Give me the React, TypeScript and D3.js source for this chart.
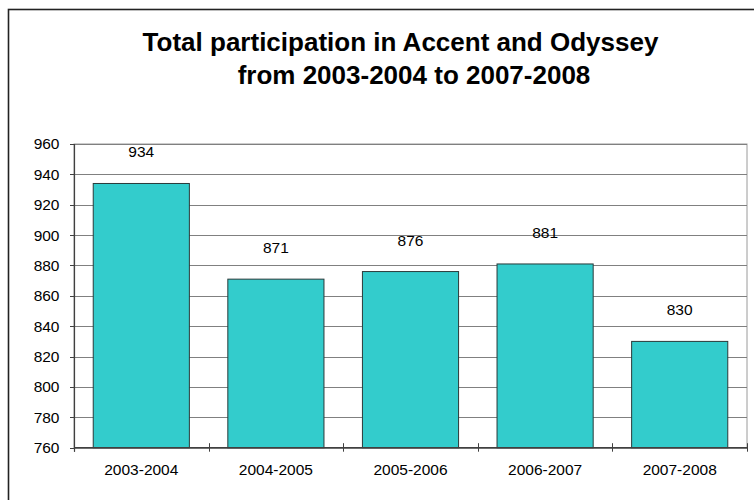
import React from "react";
import * as d3 from "d3";

// Total participation per school year
const years = ["2003-2004", "2004-2005", "2005-2006", "2006-2007", "2007-2008"];
const participation = [934, 871, 876, 881, 830];
const yTicks = [760, 780, 800, 820, 840, 860, 880, 900, 920, 940, 960];
const titleLines = ["Total participation in Accent and Odyssey", "from 2003-2004 to 2007-2008"];

const W = 754;
const H = 500;
const plot = { left: 74, right: 747, top: 144, bottom: 447.7 };
const font = "'Liberation Sans', Arial, Helvetica, sans-serif";

export default function App() {
  const x = d3
    .scaleBand<string>()
    .domain(years)
    .range([plot.left, plot.right])
    .paddingInner(0.4 / 1.4)
    .paddingOuter(0.2 / 1.4);
  const band = (plot.right - plot.left) / years.length;
  const y = d3.scaleLinear().domain([760, 960]).range([plot.bottom, plot.top]);

  return (
    <svg
      width={W}
      height={H}
      style={{ position: "absolute", left: 0, top: 0, background: "#fff" }}
      fontFamily={font}
    >
      {/* chart frame */}
      <rect x={8.5} y={9.5} width={800} height={600} fill="#fff" stroke="#222" strokeWidth={1.6} />

      {/* title */}
      <g fontSize={26} fontWeight="bold" fill="#000" textAnchor="middle">
        <text x={400.5} y={51}>{titleLines[0]}</text>
        <text x={414} y={84}>{titleLines[1]}</text>
      </g>

      {/* plot area border */}
      <rect
        x={plot.left}
        y={plot.top}
        width={plot.right - plot.left}
        height={plot.bottom - plot.top}
        fill="none"
        stroke="#9a9a9a"
        strokeWidth={1}
      />

      {/* gridlines */}
      {yTicks.map((t) => (
        <line
          key={"g" + t}
          x1={plot.left}
          x2={plot.right}
          y1={Math.round(y(t)) + 0.5}
          y2={Math.round(y(t)) + 0.5}
          stroke="#808080"
          strokeWidth={1}
        />
      ))}

      {/* bars */}
      {years.map((yr, i) => {
        const v = participation[i];
        const top = y(v);
        return (
          <rect
            key={yr}
            x={x(yr)!}
            y={top}
            width={x.bandwidth()}
            height={plot.bottom - top}
            fill="#33CCCC"
            stroke="#2a3a3a"
            strokeWidth={1}
          />
        );
      })}

      {/* y axis */}
      <line x1={plot.left + 0.5} x2={plot.left + 0.5} y1={plot.top} y2={plot.bottom + 4} stroke="#404040" strokeWidth={1.2} />
      {yTicks.map((t) => (
        <g key={"yt" + t}>
          <line
            x1={plot.left - 4}
            x2={plot.left}
            y1={Math.round(y(t)) + 0.5}
            y2={Math.round(y(t)) + 0.5}
            stroke="#404040"
            strokeWidth={1}
          />
          <text x={59.5} y={y(t)} dy="0.35em" textAnchor="end" fontSize={15.5} fill="#000">
            {t}
          </text>
        </g>
      ))}

      {/* x axis */}
      <line x1={plot.left} x2={plot.right} y1={plot.bottom} y2={plot.bottom} stroke="#404040" strokeWidth={1.2} />
      {d3.range(years.length + 1).map((i) => {
        const tx = Math.round(plot.left + band * i) + 0.5;
        return (
          <line key={"xt" + i} x1={tx} x2={tx} y1={plot.bottom - 4.5} y2={plot.bottom + 4} stroke="#404040" strokeWidth={1} />
        );
      })}
      {years.map((yr) => (
        <text
          key={"xl" + yr}
          x={x(yr)! + x.bandwidth() / 2}
          y={475}
          textAnchor="middle"
          fontSize={15.5}
          fill="#000"
        >
          {yr}
        </text>
      ))}

      {/* value labels */}
      {years.map((yr, i) => (
        <text
          key={"vl" + yr}
          x={x(yr)! + x.bandwidth() / 2}
          y={y(participation[i]) - 26}
          textAnchor="middle"
          fontSize={15.5}
          fill="#000"
        >
          {participation[i]}
        </text>
      ))}
    </svg>
  );
}
